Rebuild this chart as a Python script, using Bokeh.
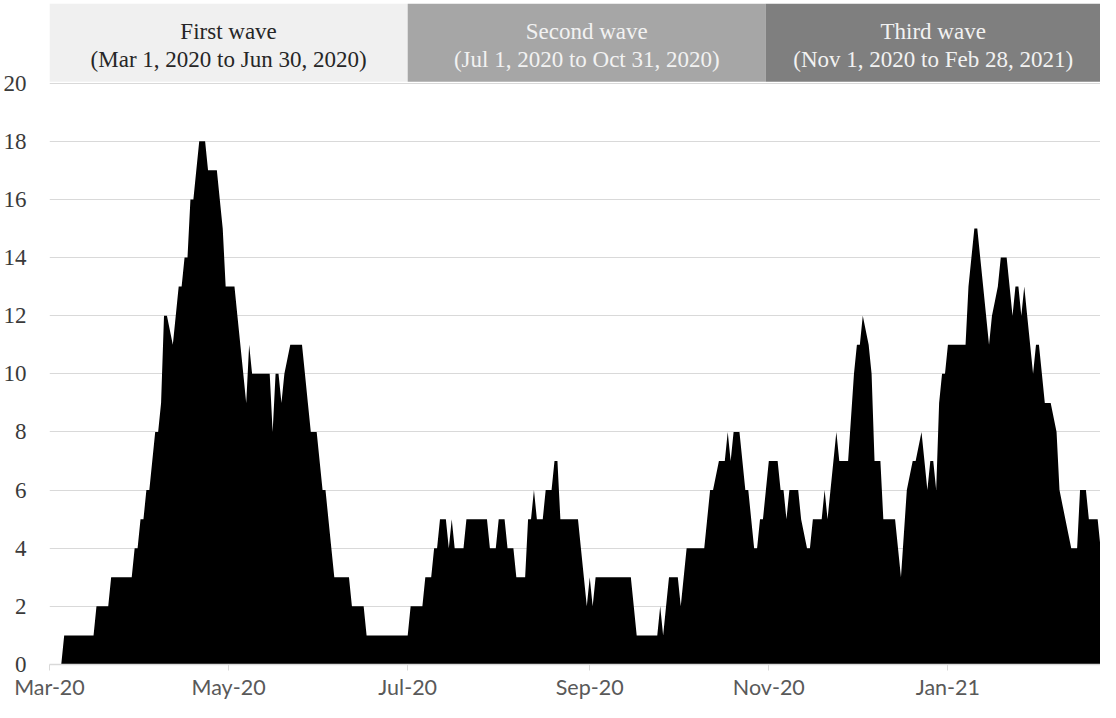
import pandas as pd
from bokeh.plotting import figure
from bokeh.models import FixedTicker, Range1d
from bokeh.core.properties import value
from bokeh.embed import file_html
from bokeh.resources import INLINE

# ---------------- data ----------------
start_date = "2020-03-01"

# daily values, Mar 1 2020 - Jun 30 2020
wave1 = [0, 0, 0, 0, 0,
         1, 1, 1, 1, 1, 1, 1, 1, 1, 1, 1,
         2, 2, 2, 2, 2,
         3, 3, 3, 3, 3, 3, 3, 3,
         4, 4, 5, 5, 6, 6, 7, 8, 8, 9, 12, 12, 11.5, 11, 12, 13, 13, 14, 14,
         16, 16, 17, 18, 18, 18, 17, 17, 17, 17, 16, 15, 13, 13, 13, 13,
         12, 11, 10, 9, 11, 10, 10, 10, 10, 10, 10, 10, 8, 10, 10, 9, 10, 10.5,
         11, 11, 11, 11, 11, 10, 9, 8, 8, 8, 7, 6, 6, 5, 4,
         3, 3, 3, 3, 3, 3,
         2, 2, 2, 2, 2,
         1, 1, 1, 1, 1, 1, 1, 1, 1, 1, 1, 1, 1, 1]

# daily values, Jul 1 2020 - Oct 31 2020
wave2 = [1, 2, 2, 2, 2, 2, 3, 3, 3, 4, 4, 5, 5, 5, 4, 5, 4, 4, 4, 4,
         5, 5, 5, 5, 5, 5, 5, 5, 4, 4, 4, 5, 5, 5, 4, 4, 4, 3, 3, 3, 3,
         5, 5, 6, 5, 5, 5, 6, 6, 6, 7, 7,
         5, 5, 5, 5, 5, 5, 5, 4, 3, 2, 3, 2,
         3, 3, 3, 3, 3, 3, 3, 3, 3, 3, 3, 3, 3, 2,
         1, 1, 1, 1, 1, 1, 1, 1, 2, 1, 2, 3, 3, 3, 3, 2, 3,
         4, 4, 4, 4, 4, 4, 4, 5, 6, 6, 6.5, 7, 7, 7, 8, 7, 8, 8, 8,
         7, 6, 6, 5, 4, 4, 5, 5, 6]

# daily values, Nov 1 2020 - Feb 28 2021
wave3 = [7, 7, 7, 7, 6, 6, 5, 6, 6, 6, 6, 5, 4.5, 4, 4, 5, 5, 5, 5,
         6, 5, 6, 7, 8, 7, 7, 7, 7, 8.5, 10, 11, 11, 12, 11.5, 11, 10,
         7, 7, 7, 5, 5, 5, 5, 5, 4, 3, 4.5, 6, 6.5, 7, 7, 7.5, 8, 7, 6,
         7, 7, 6, 9, 10, 10, 11, 11, 11, 11, 11, 11, 11,
         13, 14, 15, 15, 14, 13, 12, 11, 12, 12.5, 13, 14, 14, 14,
         13, 12, 13, 13, 12, 13, 12, 11, 10, 11, 11, 10, 9, 9, 9,
         8.5, 8, 6, 5.5, 5, 4.5, 4, 4, 4, 6, 6, 6, 5, 5, 5, 5,
         4, 4, 4, 4, 4, 4, 4]

wave_titles = ["First wave", "Second wave", "Third wave"]
wave_periods = ["(Mar 1, 2020 to Jun 30, 2020)",
                "(Jul 1, 2020 to Oct 31, 2020)",
                "(Nov 1, 2020 to Feb 28, 2021)"]
band_edges = ["2020-03-01", "2020-07-01", "2020-10-31", "2021-03-01"]
band_colors = ["#f0f0f0", "#a6a6a6", "#7f7f7f"]
title_colors = ["#262626", "#f2f2f2", "#f2f2f2"]

x_tick_dates = ["2020-03-01", "2020-05-01", "2020-07-01",
                "2020-09-01", "2020-11-01", "2021-01-01"]
x_tick_labels = ["Mar-20", "May-20", "Jul-20", "Sep-20", "Nov-20", "Jan-21"]
y_ticks = [0, 2, 4, 6, 8, 10, 12, 14, 16, 18, 20]

# ---------------- build ----------------
start = pd.Timestamp(start_date)
counts = wave1 + wave2 + wave3
dates = pd.date_range(start, periods=len(counts), freq="D")
days = [(d - start).days for d in dates]
tick_days = [(pd.Timestamp(d) - start).days for d in x_tick_dates]
edge_days = [(pd.Timestamp(d) - start).days for d in band_edges]

PX_PER_DAY = 2.95
W, H = 1100, 702
LEFT, RIGHT, TOP, BOTTOM = 44, 0, 3, 32
x_end = (W - LEFT - RIGHT) / PX_PER_DAY
Y_TOP = 22.74

p = figure(width=W, height=H, output_backend="svg", toolbar_location=None,
           x_range=Range1d(0, x_end), y_range=Range1d(0, Y_TOP),
           min_border_left=LEFT, min_border_right=RIGHT,
           min_border_top=TOP, min_border_bottom=BOTTOM)
p.outline_line_color = None
p.background_fill_color = "white"
p.border_fill_color = "white"

# grid
p.xgrid.grid_line_color = None
p.ygrid.ticker = FixedTicker(ticks=y_ticks)
p.ygrid.grid_line_color = "#d9d9d9"
p.ygrid.grid_line_width = 1

# y axis
p.yaxis.ticker = FixedTicker(ticks=y_ticks)
p.yaxis.axis_line_color = None
p.yaxis.major_tick_line_color = None
p.yaxis.minor_tick_line_color = None
p.yaxis.major_label_standoff = 17
p.yaxis.major_label_text_font = "Liberation Serif"
p.yaxis.major_label_text_font_size = "23px"
p.yaxis.major_label_text_color = "#3a3a3a"

# x axis
p.xaxis.ticker = FixedTicker(ticks=tick_days)
p.xaxis.major_label_overrides = {d: lab for d, lab in zip(tick_days, x_tick_labels)}
p.xaxis.axis_line_color = "#d9d9d9"
p.xaxis.axis_line_width = 1.5
p.xaxis.major_tick_line_color = "#d9d9d9"
p.xaxis.major_tick_out = 6
p.xaxis.major_tick_in = 0
p.xaxis.minor_tick_line_color = None
p.xaxis.major_label_standoff = 3
p.xaxis.major_label_text_font = "Lato"
p.xaxis.major_label_text_font_size = "21.5px"
p.xaxis.major_label_text_color = "#595959"

# area
p.varea(x=days, y1=0, y2=counts, fill_color="black")

# wave bands
p.quad(left=edge_days[:-1], right=edge_days[1:], bottom=20.05, top=Y_TOP,
       fill_color=band_colors, line_color=None)
centers = []
for i in range(3):
    lo = edge_days[i]
    hi = min(edge_days[i + 1], x_end)
    centers.append((lo + hi) / 2)
p.text(x=centers, y=[21.78] * 3, text=wave_titles,
       text_font=value("Liberation Serif"), text_font_size="23px",
       text_align="center", text_baseline="alphabetic", text_color=title_colors)
p.text(x=centers, y=[20.81] * 3, text=wave_periods,
       text_font=value("Liberation Serif"), text_font_size="23px",
       text_align="center", text_baseline="alphabetic", text_color=title_colors)

open("out.html", "w").write(file_html(p, INLINE))
